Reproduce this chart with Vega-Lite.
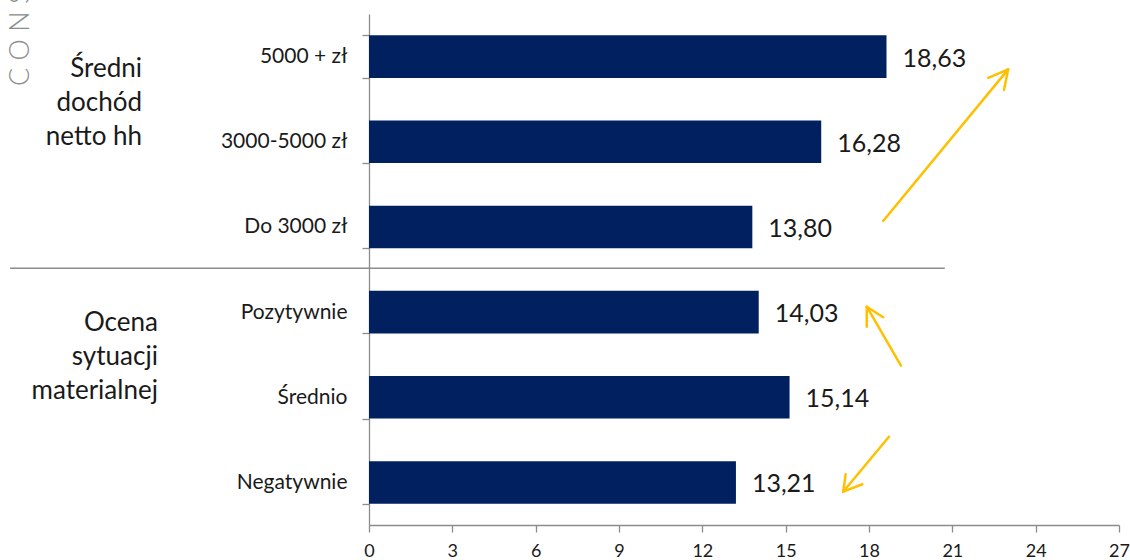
{
  "$schema": "https://vega.github.io/schema/vega-lite/v6.json",
  "width": 750,
  "height": 511,
  "autosize": {"type": "none"},
  "padding": {"left": 369, "top": 14, "right": 11, "bottom": 35},
  "background": "white",
  "config": {
    "view": {"stroke": null},
    "font": "Lato",
    "locale": {"number": {"decimal": ",", "thousands": " ", "grouping": [3], "currency": ["", " zł"]}}
  },
  "datasets": {
    "bars": [
      {"kategoria": "5000 + zł", "wartosc": 18.63},
      {"kategoria": "3000-5000 zł", "wartosc": 16.28},
      {"kategoria": "Do 3000 zł", "wartosc": 13.80},
      {"kategoria": "Pozytywnie", "wartosc": 14.03},
      {"kategoria": "Średnio", "wartosc": 15.14},
      {"kategoria": "Negatywnie", "wartosc": 13.21}
    ],
    "arrows": [
      {"x": 18.51, "v": 3.569, "x2": 23.01, "v2": 5.35},
      {"x": 23.01, "v": 5.35, "x2": 22.29, "v2": 5.25},
      {"x": 23.01, "v": 5.35, "x2": 22.86, "v2": 5.107},
      {"x": 19.15, "v": 1.87, "x2": 17.92, "v2": 2.563},
      {"x": 17.92, "v": 2.563, "x2": 18.51, "v2": 2.439},
      {"x": 17.92, "v": 2.563, "x2": 17.92, "v2": 2.328},
      {"x": 18.72, "v": 1.037, "x2": 17.07, "v2": 0.391},
      {"x": 17.07, "v": 0.391, "x2": 17.76, "v2": 0.478},
      {"x": 17.07, "v": 0.391, "x2": 17.16, "v2": 0.595}
    ],
    "separator": [
      {"x": -12.92, "x2": 20.73, "v": 3.015}
    ],
    "groups": [
      {"x": -8.17, "v": 5.36, "tekst": "Średni\ndochód\nnetto hh"},
      {"x": -7.6, "v": 2.37, "tekst": "Ocena\nsytuacji\nmaterialnej"}
    ],
    "brand": [
      {"x": -12.25, "v": 5.155, "tekst": "C O N S U M E R"}
    ]
  },
  "layer": [
    {
      "data": {"name": "bars"},
      "encoding": {
        "y": {
          "field": "kategoria",
          "type": "nominal",
          "sort": null,
          "scale": {"paddingInner": 0.5, "paddingOuter": 0.25},
          "axis": {
            "title": null,
            "tickBand": "extent",
            "tickSize": 7,
            "tickColor": "#8c8c8c",
            "domainColor": "#8c8c8c",
            "domainWidth": 1.3,
            "tickWidth": 1.3,
            "labelFont": "Lato",
            "labelFontSize": 21,
            "labelColor": "#1a1a1a",
            "labelPadding": 15,
            "labelLimit": 300
          }
        },
        "x": {
          "field": "wartosc",
          "type": "quantitative",
          "scale": {"domain": [0, 27], "nice": false},
          "axis": {
            "title": null,
            "values": [0, 3, 6, 9, 12, 15, 18, 21, 24, 27],
            "grid": false,
            "tickSize": 7,
            "tickColor": "#8c8c8c",
            "domainColor": "#8c8c8c",
            "domainWidth": 1.3,
            "tickWidth": 1.3,
            "labelFont": "Lato",
            "labelFontSize": 18,
            "labelColor": "#1a1a1a",
            "labelPadding": 10,
            "labelFlush": false
          }
        }
      },
      "layer": [
        {"mark": {"type": "bar", "color": "#002060"}},
        {
          "mark": {"type": "text", "align": "left", "baseline": "middle", "dx": 16, "dy": 2, "fontSize": 25, "color": "#1a1a1a"},
          "encoding": {"text": {"field": "wartosc", "type": "quantitative", "format": ".2f"}}
        }
      ]
    },
    {
      "layer": [
        {
          "data": {"name": "separator"},
          "mark": {"type": "rule", "color": "#8c8c8c", "strokeWidth": 1.5},
          "encoding": {
            "x": {"field": "x", "type": "quantitative", "scale": {"domain": [0, 27], "nice": false}},
            "x2": {"field": "x2"},
            "y": {"field": "v", "type": "quantitative", "scale": {"domain": [0, 6], "nice": false}, "axis": null}
          }
        },
        {
          "data": {"name": "arrows"},
          "mark": {"type": "rule", "color": "#FFC000", "strokeWidth": 2.5, "strokeCap": "round"},
          "encoding": {
            "x": {"field": "x", "type": "quantitative", "scale": {"domain": [0, 27], "nice": false}},
            "x2": {"field": "x2"},
            "y": {"field": "v", "type": "quantitative", "scale": {"domain": [0, 6], "nice": false}, "axis": null},
            "y2": {"field": "v2"}
          }
        },
        {
          "data": {"name": "groups"},
          "mark": {"type": "text", "align": "right", "baseline": "middle", "fontSize": 26, "lineHeight": 34, "lineBreak": "\n", "color": "#1a1a1a"},
          "encoding": {
            "x": {"field": "x", "type": "quantitative", "scale": {"domain": [0, 27], "nice": false}},
            "y": {"field": "v", "type": "quantitative", "scale": {"domain": [0, 6], "nice": false}, "axis": null},
            "text": {"field": "tekst"}
          }
        },
        {
          "data": {"name": "brand"},
          "mark": {"type": "text", "align": "left", "baseline": "alphabetic", "angle": 270, "fontSize": 27, "fontWeight": 300, "color": "#8c8c8c"},
          "encoding": {
            "x": {"field": "x", "type": "quantitative", "scale": {"domain": [0, 27], "nice": false}},
            "y": {"field": "v", "type": "quantitative", "scale": {"domain": [0, 6], "nice": false}, "axis": null},
            "text": {"field": "tekst"}
          }
        }
      ]
    }
  ],
  "resolve": {"scale": {"y": "independent"}, "axis": {"y": "independent"}}
}
